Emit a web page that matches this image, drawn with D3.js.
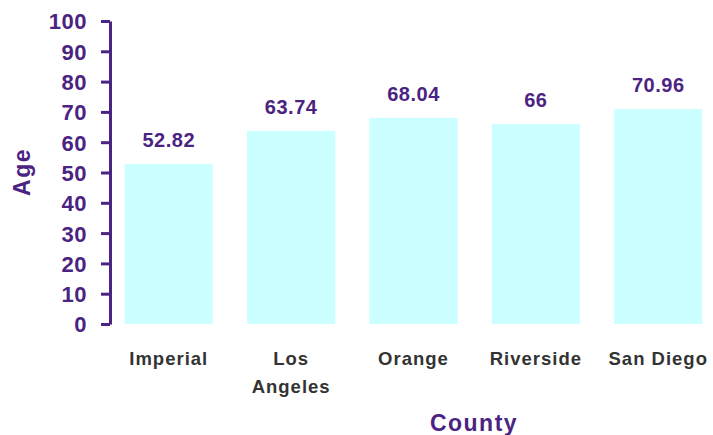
<!DOCTYPE html>
<html>
<head>
<meta charset="utf-8">
<script src="https://cdn.jsdelivr.net/npm/d3@7"></script>
<style>
  body { margin: 0; background: #fff; }
  text { font-family: "Liberation Sans", Arial, sans-serif; font-weight: bold; }
</style>
</head>
<body>
<svg width="713" height="435"></svg>
<script>
const counties = ['Imperial', 'Los Angeles', 'Orange', 'Riverside', 'San Diego']
const ages = [52.82, 63.74, 68.04, 66, 70.96]
const yTicks = [0, 10, 20, 30, 40, 50, 60, 70, 80, 90, 100]

const svg = d3.select('svg')
const purple = '#4b2382'

const yScale = d3.scaleLinear().domain([0, 100]).range([324, 21])
const xScale = d3.scaleBand()
  .domain(counties)
  .range([110, 717])
  .paddingInner(0.28)
  .paddingOuter(0.12)

// bars
svg.selectAll('rect')
  .data(counties)
  .enter()
  .append('rect')
  .attr('x', d => xScale(d))
  .attr('y', (d, i) => yScale(ages[i]))
  .attr('width', xScale.bandwidth())
  .attr('height', (d, i) => yScale(0) - yScale(ages[i]))
  .attr('fill', '#ccffff')

// y axis
const yAxis = svg.append('g')
  .attr('transform', 'translate(110, 0)')
  .call(d3.axisLeft(yScale).tickValues(yTicks).tickSize(9).tickPadding(14).tickSizeOuter(0))
yAxis.select('.domain').attr('stroke', purple).attr('stroke-width', 3)
yAxis.selectAll('.tick line').attr('stroke', purple).attr('stroke-width', 3)
yAxis.selectAll('.tick text')
  .attr('fill', purple)
  .style('font-size', '22px')
  .style('letter-spacing', '0.5px')
  .attr('dy', '0.36em')

// value labels
svg.selectAll('.val')
  .data(counties)
  .enter()
  .append('text')
  .attr('class', 'val')
  .attr('x', d => xScale(d) + xScale.bandwidth() / 2)
  .attr('y', (d, i) => yScale(ages[i]) - 17)
  .attr('text-anchor', 'middle')
  .attr('fill', purple)
  .style('font-size', '20px')
  .style('letter-spacing', '0.5px')
  .text((d, i) => ages[i])

// category labels
const cats = svg.selectAll('.cat')
  .data(counties)
  .enter()
  .append('text')
  .attr('class', 'cat')
  .attr('text-anchor', 'middle')
  .attr('fill', '#333')
  .style('font-size', '18.5px')
  .style('letter-spacing', '1px')
cats.each(function (d) {
  const cx = xScale(d) + xScale.bandwidth() / 2
  const lines = d === 'Los Angeles' ? ['Los', 'Angeles'] : [d]
  d3.select(this).selectAll('tspan')
    .data(lines)
    .enter()
    .append('tspan')
    .attr('x', cx)
    .attr('y', (l, j) => 365 + j * 28)
    .text(l => l)
})

// axis titles
svg.append('text')
  .attr('x', 474)
  .attr('y', 431)
  .attr('text-anchor', 'middle')
  .attr('fill', purple)
  .style('font-size', '23px')
  .style('letter-spacing', '1.5px')
  .text('County')

svg.append('text')
  .attr('transform', 'translate(30, 172) rotate(-90)')
  .attr('text-anchor', 'middle')
  .attr('fill', purple)
  .style('font-size', '23px')
  .style('letter-spacing', '1.5px')
  .text('Age')
</script>
</body>
</html>
